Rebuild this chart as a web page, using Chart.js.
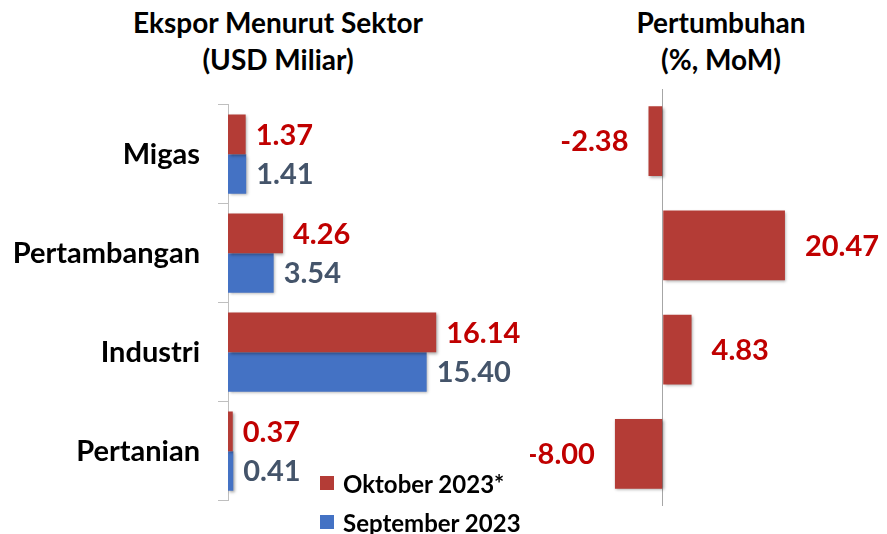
<!DOCTYPE html>
<html>
<head>
<meta charset="utf-8">
<script src="https://cdn.jsdelivr.net/npm/chart.js@4/dist/chart.umd.min.js"></script>
<style>
  body { margin: 0; background: #fff; width: 887px; height: 534px; position: relative; overflow: hidden; font-family: Lato, "Open Sans", sans-serif; }
  .title { position: absolute; font-weight: bold; font-size: 28px; line-height: 37px; color: #000; text-align: center; white-space: nowrap; }
  #leftWrap { position: absolute; left: 0; top: 90px; width: 560px; height: 430px; }
  #rightWrap { position: absolute; left: 530px; top: 80px; width: 357px; height: 440px; }
  .legend { position: absolute; left: 320px; height: 30px; display: flex; align-items: center; font-weight: bold; font-size: 24px; color: #000; white-space: nowrap; }
  .legend span { display: inline-block; width: 14px; height: 14px; margin-right: 9px; }
</style>
</head>
<body>
<div class="title" style="left:128px; width:300px; top:4px;">Ekspor Menurut Sektor<br>(USD Miliar)</div>
<div class="title" style="left:621px; width:200px; top:4px;">Pertumbuhan<br>(%, MoM)</div>
<div id="leftWrap"><canvas id="ekspor"></canvas></div>
<div id="rightWrap"><canvas id="tumbuh"></canvas></div>
<div class="legend" style="top:468px;"><span style="background:#b43c36"></span>Oktober 2023*</div>
<div class="legend" style="top:507px;"><span style="background:#4472c4"></span>September 2023</div>
<script>
// data
const sektor = ['Migas', 'Pertambangan', 'Industri', 'Pertanian'];
const oktober2023 = [1.37, 4.26, 16.14, 0.37];
const september2023 = [1.41, 3.54, 15.40, 0.41];
const pertumbuhan = [-2.38, 20.47, 4.83, -8.00];

const merah = '#b43c36';
const biru = '#4472c4';

// shadow on bars + value labels next to bar ends
const labelBar = {
    id: 'labelBar',
    beforeDatasetsDraw(chart) {
        const ctx = chart.ctx;
        ctx.save();
        ctx.shadowColor = 'rgba(0,0,0,0.35)';
        ctx.shadowBlur = 3;
        ctx.shadowOffsetX = 1.5;
        ctx.shadowOffsetY = 1.5;
    },
    afterDatasetsDraw(chart, args, opts) {
        const ctx = chart.ctx;
        ctx.restore();
        ctx.save();
        ctx.font = 'bold 29px Lato';
        ctx.textBaseline = 'middle';
        chart.data.datasets.forEach((ds, i) => {
            chart.getDatasetMeta(i).data.forEach((bar, j) => {
                const v = ds.data[j];
                ctx.fillStyle = opts.colors[i];
                if (v < 0) {
                    ctx.textAlign = 'right';
                    ctx.fillText(v.toFixed(2), bar.x - opts.gap, bar.y + 1);
                } else {
                    ctx.textAlign = 'left';
                    ctx.fillText(v.toFixed(2), bar.x + opts.gap, bar.y + 1);
                }
            });
        });
        ctx.restore();
    }
};

new Chart(document.getElementById('ekspor'), {
    type: 'bar',
    data: {
        labels: sektor,
        datasets: [
            { label: 'Oktober 2023*', data: oktober2023, backgroundColor: merah },
            { label: 'September 2023', data: september2023, backgroundColor: biru }
        ]
    },
    options: {
        indexAxis: 'y',
        responsive: true,
        maintainAspectRatio: false,
        animation: false,
        layout: { padding: { top: 14.7, bottom: 19.3, right: 74, left: 0 } },
        datasets: { bar: { categoryPercentage: 0.8, barPercentage: 1.0 } },
        scales: {
            x: { display: false, min: 0, max: 20 },
            y: {
                afterFit: (s) => { s.width = 228; s.paddingTop = 0; s.paddingBottom = 0; },
                grid: { drawOnChartArea: false, tickLength: 10, color: '#bfbfbf', offset: true },
                border: { color: '#bfbfbf' },
                ticks: { color: '#000', font: { family: 'Lato', weight: 'bold', size: 29 }, padding: 18 }
            }
        },
        plugins: {
            legend: { display: false },
            tooltip: { enabled: false },
            labelBar: { colors: ['#c00000', '#44546a'], gap: 10 }
        }
    },
    plugins: [labelBar]
});

new Chart(document.getElementById('tumbuh'), {
    type: 'bar',
    data: {
        labels: sektor,
        datasets: [
            { label: 'Pertumbuhan', data: pertumbuhan, backgroundColor: merah }
        ]
    },
    options: {
        indexAxis: 'y',
        responsive: true,
        maintainAspectRatio: false,
        animation: false,
        layout: { padding: { top: 9, bottom: 14, left: 73, right: 75 } },
        datasets: { bar: { categoryPercentage: 0.67, barPercentage: 1.0 } },
        scales: {
            x: {
                min: -10, max: 25,
                ticks: { display: false, stepSize: 5 },
                border: { display: false },
                grid: {
                    drawTicks: false,
                    color: (c) => c.tick && c.tick.value === 0 ? '#a6a6a6' : 'rgba(0,0,0,0)'
                }
            },
            y: { display: false }
        },
        plugins: {
            legend: { display: false },
            tooltip: { enabled: false },
            labelBar: { colors: ['#c00000'], gap: 20 }
        }
    },
    plugins: [labelBar]
});
</script>
</body>
</html>
